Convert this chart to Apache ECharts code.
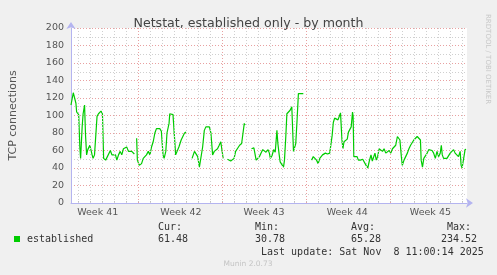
<!DOCTYPE html>
<html><head><meta charset="utf-8">
<script src="https://cdn.jsdelivr.net/npm/echarts@6/dist/echarts.min.js"></script>
<style>html,body{margin:0;padding:0;background:#f0f0f0}#c{width:497px;height:275px}</style>
</head><body><div id="c"></div>
<script>
// ---- data (days since graph start, Oct 6 2025 11:00) ----
const dayOffset = [
 0.00,0.19,0.31,0.41,0.47,0.58,0.64,0.74,0.80,0.93,1.01,1.13,1.21,1.30,1.40,1.57,1.67,1.76,1.84,1.96,
 2.06,2.17,2.29,2.39,2.50,2.62,2.72,2.89,3.05,3.28,3.41,3.55,3.71,3.82,3.96,4.10,4.23,4.37,4.51,4.64,
 4.79,4.93,5.06,5.20,5.28,
 5.37,
 5.47,5.53,5.69,5.88,6.02,6.16,6.29,6.44,6.58,6.71,6.85,6.99,7.12,7.26,7.40,7.53,7.67,7.76,7.90,8.00,
 8.17,8.23,8.36,8.50,8.64,8.72,8.83,8.99,9.18,9.32,9.46,9.59,
 9.80,
 10.09,10.29,10.42,10.56,10.70,10.83,10.97,11.11,11.24,11.39,11.53,11.66,11.80,11.94,12.07,12.21,12.35,12.48,12.57,12.68,
 12.85,
 13.04,13.18,13.31,13.45,13.59,13.72,13.86,13.99,14.05,14.22,14.33,14.44,14.50,
 14.75,
 15.04,15.24,15.35,15.43,15.59,15.70,15.87,15.98,16.14,16.25,16.42,16.53,16.61,16.75,16.89,17.02,17.16,17.24,17.35,17.43,
 17.57,17.71,17.79,17.90,17.99,18.13,18.26,18.40,18.46,18.54,18.62,18.73,18.84,18.95,19.08,19.22,19.36,
 19.70,
 20.05,20.19,20.32,20.46,20.60,20.73,20.87,20.96,21.08,21.20,21.37,21.48,21.56,21.64,21.76,21.86,21.97,22.11,22.25,22.38,
 22.46,22.58,22.66,22.75,22.85,23.02,23.12,23.24,23.35,23.46,23.51,23.57,23.68,23.84,23.95,24.12,24.31,24.45,24.59,24.73,
 24.86,25.00,25.11,25.22,25.33,25.44,25.55,25.68,25.82,25.96,26.09,26.23,26.37,26.51,26.65,26.79,26.92,27.06,27.20,27.33,
 27.41,27.53,27.61,27.75,27.89,28.03,28.16,28.30,28.44,28.57,28.71,28.85,28.98,29.12,29.18,29.29,29.40,29.54,29.68,29.81,
 29.95,30.09,30.22,30.36,30.50,30.63,30.77,30.86,30.94,31.05,31.19,31.33,31.46,31.60,31.74,31.88,32.01,32.15,32.29,32.43,
 32.51,32.59,32.70,32.84,32.92
];
const established = [
 112,126,128,114,104,104,101,63,51,87,102,112,78,55,61,66,68,55,51,55,
 56,99,102,103,105,102,51,49,51,60,55,54,55,49,55,59,55,62,61,64,
 59,61,59,59,56,
 null,
 74,49,43,45,51,49,55,59,55,64,70,80,85,87,85,82,55,51,59,80,
 91,102,101,101,99,55,56,64,72,76,80,81,
 null,
 51,59,60,53,41,41,64,83,87,89,87,80,55,59,60,62,66,70,72,51,
 null,
 50,52,48,49,51,59,62,60,66,68,70,91,89,
 null,
 62,63,61,49,47,53,58,61,62,58,61,57,51,54,61,58,83,68,55,47,
 45,41,49,76,102,104,106,110,108,59,61,68,95,125,126,125,125,
 null,
 49,53,52,49,45,51,49,55,53,57,56,55,57,65,77,92,97,97,95,100,
 103,72,62,70,68,73,81,80,87,104,99,53,51,53,49,49,50,48,43,40,
 48,55,48,49,57,49,53,62,61,59,62,57,59,60,57,62,61,66,76,78,
 72,53,43,49,51,57,62,66,68,72,74,76,78,72,49,41,51,49,57,61,
 59,60,57,51,59,53,57,66,55,51,49,51,53,57,59,61,57,55,53,59,
 43,40,49,61,61.5
];
const weekTicks = [2.23, 9.16, 16.09, 23.02, 29.95];
const weekLabels = ['Week 41', 'Week 42', 'Week 43', 'Week 44', 'Week 45'];
const dayLines = [];            // midnight gridlines (days since start)
for (let k = 0; k <= 32; k++) dayLines.push(0.6 + k);
const weekLineIndex = 5;        // every 7th day line (Sunday) is a major line
const statLabels = ['Cur:', 'Min:', 'Avg:', 'Max:'];
const statValues = ['61.48', '30.78', '65.28', '234.52'];
const seriesName = 'established';
const titleText = 'Netstat, established only - by month';
const yName = 'TCP connections';
const lastUpdate = 'Last update: Sat Nov  8 11:00:14 2025';
const footer = 'Munin 2.0.73';
const sideText = 'RRDTOOL / TOBI OETIKER';

// ---- chart ----
const MAJOR = '#e8a0a0', MINOR = '#cfcfcf', AXIS = '#b4b4f0', GREEN = '#00cc00', TXT = '#333';
const seriesData = dayOffset.map((d, i) => [d, established[i] == null ? '-' : established[i]]);
const gridMarks = dayLines.map((d, k) => ({
  xAxis: d, lineStyle: { color: (k % 7 === weekLineIndex) ? MAJOR : MINOR, type: [1, 2], width: 1 }
}));
const monoFont = '"DejaVu Sans Mono"';
const statLabelX = [158, 255, 351, 447];
const statValueX = [158, 255, 351, 441];
const graphics = [];
statLabels.forEach((t, i) => graphics.push({type:'text', x:statLabelX[i], y:227, style:{text:t, fill:TXT, font:'10px ' + monoFont, verticalAlign:'middle'}}));
statValues.forEach((t, i) => graphics.push({type:'text', x:statValueX[i], y:239.5, style:{text:t, fill:TXT, font:'10px ' + monoFont, verticalAlign:'middle'}}));
graphics.push({type:'text', x:261, y:252, style:{text:lastUpdate, fill:TXT, font:'10px ' + monoFont, verticalAlign:'middle'}});
graphics.push({type:'text', x:248, y:264.5, style:{text:footer, fill:'#c4c4c4', font:'7.5px "DejaVu Sans"', align:'center', verticalAlign:'middle'}});
graphics.push({type:'text', x:491, y:14, rotation:-Math.PI/2, style:{text:sideText, fill:'#c8c8c8', font:'7px "DejaVu Sans"', verticalAlign:'top'}});

const chart = echarts.init(document.getElementById('c'), null, {renderer:'canvas'});
chart.setOption({
  backgroundColor: '#f0f0f0',
  animation: false,
  title: { text: titleText, left: 'center', top: 12,
    textStyle: { fontFamily: 'DejaVu Sans', fontSize: 12.6, fontWeight: 'normal', color: '#444' } },
  grid: { left: 67, top: 28, width: 400, height: 175, show: true, backgroundColor: '#fff', borderWidth: 0 },
  legend: { data: [seriesName], left: 14, top: 234, padding: 0, itemWidth: 6, itemHeight: 6, icon: 'rect',
    textStyle: { fontFamily: 'DejaVu Sans Mono', fontSize: 10, color: TXT, padding: [0, 0, 0, 2] } },
  xAxis: {
    type: 'value', min: 0, max: 33,
    axisLine: { show: true, symbol: ['none', 'arrow'], symbolSize: [7, 7], symbolOffset: [0, 6],
      lineStyle: { color: AXIS, width: 1 } },
    axisTick: { show: true, customValues: dayLines, length: 2, inside: true, lineStyle: { color: '#c0c0c0' } },
    axisLabel: { customValues: weekTicks, formatter: v => weekLabels[weekTicks.indexOf(v)] || '',
      fontFamily: 'DejaVu Sans', fontSize: 9.5, color: '#555', margin: 5 },
    splitLine: { show: false }
  },
  yAxis: {
    type: 'value', min: 0, max: 200, interval: 10,
    name: yName, nameLocation: 'middle', nameGap: 52,
    nameTextStyle: { fontFamily: 'DejaVu Sans', fontSize: 11, color: '#555' },
    axisLine: { show: true, symbol: ['none', 'arrow'], symbolSize: [7, 7], symbolOffset: [0, 6],
      lineStyle: { color: AXIS, width: 1 } },
    axisTick: { show: false },
    axisLabel: { formatter: v => (v % 20 === 0 ? String(v) : ''), fontFamily: 'DejaVu Sans', fontSize: 9.5, color: '#555', margin: 7 },
    splitLine: { show: true, lineStyle: { color: [MAJOR, MINOR], type: [1, 2], width: 1 } }
  },
  series: [
    { name: '_grid', type: 'line', data: [], z: 1, silent: true,
      markLine: { silent: true, symbol: ['none', 'none'], label: { show: false }, animation: false, data: gridMarks } },
    { name: seriesName, type: 'line', data: seriesData, showSymbol: false, connectNulls: false, z: 3,
      lineStyle: { color: GREEN, width: 1.2 }, itemStyle: { color: GREEN } }
  ],
  graphic: graphics
});
</script></body></html>
